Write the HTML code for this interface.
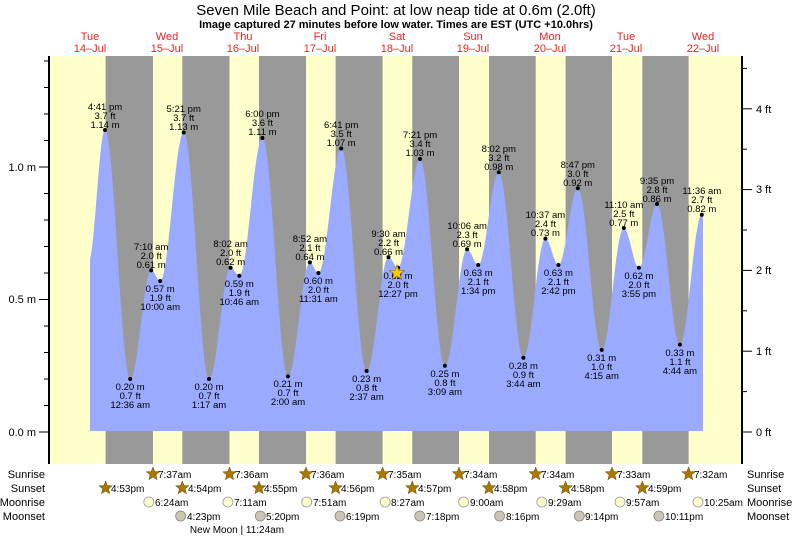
<!DOCTYPE html>
<html><head><meta charset="utf-8"><style>
html,body{margin:0;padding:0;background:#fff}
svg{display:block;font-family:"Liberation Sans",sans-serif}
</style></head><body>
<svg id="s" width="793" height="537" viewBox="0 0 793 537">
<rect x="49" y="56" width="693" height="408" fill="#ffffcc"/>
<g fill="#999999">
<rect x="105.6" y="56" width="47.4" height="408"/>
<rect x="182.3" y="56" width="47.2" height="408"/>
<rect x="259" y="56" width="47" height="408"/>
<rect x="335.6" y="56" width="47" height="408"/>
<rect x="412.3" y="56" width="46.7" height="408"/>
<rect x="489" y="56" width="46.7" height="408"/>
<rect x="565.6" y="56" width="46.4" height="408"/>
<rect x="642.3" y="56" width="46.3" height="408"/>
</g>
<path id="tide" fill="#99aaff" d=""/>
<g stroke="#000" stroke-width="2"><line x1="49" y1="56" x2="49" y2="464"/><line x1="742" y1="56" x2="742" y2="464"/></g>
<g id="ticks" stroke="#000" stroke-width="1"></g>
<g font-size="11" fill="#000">
<text x="36" y="436" text-anchor="end">0.0 m</text>
<text x="36" y="303" text-anchor="end">0.5 m</text>
<text x="36" y="171" text-anchor="end">1.0 m</text>
<text x="756" y="436">0 ft</text>
<text x="756" y="355">1 ft</text>
<text x="756" y="274">2 ft</text>
<text x="756" y="193">3 ft</text>
<text x="756" y="113">4 ft</text>
</g>
<text x="396" y="15" font-size="15" text-anchor="middle">Seven Mile Beach and Point: at low  neap tide at 0.6m (2.0ft)</text>
<text x="396" y="28" font-size="11" font-weight="bold" text-anchor="middle">Image captured 27 minutes before low water. Times are EST (UTC +10.0hrs)</text>
<g font-size="11" fill="#ee2222" text-anchor="middle">
<text x="90" y="40">Tue</text><text x="90" y="52">14–Jul</text>
<text x="167" y="40">Wed</text><text x="167" y="52">15–Jul</text>
<text x="243" y="40">Thu</text><text x="243" y="52">16–Jul</text>
<text x="320" y="40">Fri</text><text x="320" y="52">17–Jul</text>
<text x="397" y="40">Sat</text><text x="397" y="52">18–Jul</text>
<text x="473" y="40">Sun</text><text x="473" y="52">19–Jul</text>
<text x="550" y="40">Mon</text><text x="550" y="52">20–Jul</text>
<text x="626" y="40">Tue</text><text x="626" y="52">21–Jul</text>
<text x="703" y="40">Wed</text><text x="703" y="52">22–Jul</text>
</g>
<g font-size="9.5" text-anchor="middle" fill="#000">
<g><circle cx="105" cy="130" r="2"/><text x="105" y="110">4:41 pm</text><text x="105" y="119">3.7 ft</text><text x="105" y="128">1.14 m</text></g>
<g><circle cx="183.7" cy="132.5" r="2"/><text x="183.7" y="112">5:21 pm</text><text x="183.7" y="121">3.7 ft</text><text x="183.7" y="130">1.13 m</text></g>
<g><circle cx="262.4" cy="138" r="2"/><text x="262.4" y="117">6:00 pm</text><text x="262.4" y="126">3.6 ft</text><text x="262.4" y="135">1.11 m</text></g>
<g><circle cx="341.2" cy="148.5" r="2"/><text x="341.2" y="128">6:41 pm</text><text x="341.2" y="137">3.5 ft</text><text x="341.2" y="146">1.07 m</text></g>
<g><circle cx="420" cy="159" r="2"/><text x="420" y="138">7:21 pm</text><text x="420" y="147">3.4 ft</text><text x="420" y="156">1.03 m</text></g>
<g><circle cx="498.8" cy="172.3" r="2"/><text x="498.8" y="152">8:02 pm</text><text x="498.8" y="161">3.2 ft</text><text x="498.8" y="170">0.98 m</text></g>
<g><circle cx="577.8" cy="188.2" r="2"/><text x="577.8" y="168">8:47 pm</text><text x="577.8" y="177">3.0 ft</text><text x="577.8" y="186">0.92 m</text></g>
<g><circle cx="657" cy="204" r="2"/><text x="657" y="184">9:35 pm</text><text x="657" y="193">2.8 ft</text><text x="657" y="202">0.86 m</text></g>
<g><circle cx="701.8" cy="214.7" r="2"/><text x="701.8" y="194">11:36 am</text><text x="701.8" y="203">2.7 ft</text><text x="701.8" y="212">0.82 m</text></g>
<g><circle cx="151.2" cy="270.4" r="2"/><text x="151.2" y="250">7:10 am</text><text x="151.2" y="259">2.0 ft</text><text x="151.2" y="268">0.61 m</text></g>
<g><circle cx="230.6" cy="267.7" r="2"/><text x="230.6" y="247">8:02 am</text><text x="230.6" y="256">2.0 ft</text><text x="230.6" y="265">0.62 m</text></g>
<g><circle cx="309.9" cy="262.4" r="2"/><text x="309.9" y="242">8:52 am</text><text x="309.9" y="251">2.1 ft</text><text x="309.9" y="260">0.64 m</text></g>
<g><circle cx="388.5" cy="257.1" r="2"/><text x="388.5" y="237">9:30 am</text><text x="388.5" y="246">2.2 ft</text><text x="388.5" y="255">0.66 m</text></g>
<g><circle cx="467.1" cy="249.2" r="2"/><text x="467.1" y="229">10:06 am</text><text x="467.1" y="238">2.3 ft</text><text x="467.1" y="247">0.69 m</text></g>
<g><circle cx="545.4" cy="238.6" r="2"/><text x="545.4" y="218">10:37 am</text><text x="545.4" y="227">2.4 ft</text><text x="545.4" y="236">0.73 m</text></g>
<g><circle cx="623.8" cy="228" r="2"/><text x="623.8" y="208">11:10 am</text><text x="623.8" y="217">2.5 ft</text><text x="623.8" y="226">0.77 m</text></g>
<g><circle cx="130.2" cy="379" r="2"/><text x="130.2" y="390">0.20 m</text><text x="130.2" y="399">0.7 ft</text><text x="130.2" y="408">12:36 am</text></g>
<g><circle cx="209" cy="379" r="2"/><text x="209" y="390">0.20 m</text><text x="209" y="399">0.7 ft</text><text x="209" y="408">1:17 am</text></g>
<g><circle cx="288" cy="376.4" r="2"/><text x="288" y="387">0.21 m</text><text x="288" y="396">0.7 ft</text><text x="288" y="405">2:00 am</text></g>
<g><circle cx="366.6" cy="371" r="2"/><text x="366.6" y="382">0.23 m</text><text x="366.6" y="391">0.8 ft</text><text x="366.6" y="400">2:37 am</text></g>
<g><circle cx="444.9" cy="365.8" r="2"/><text x="444.9" y="377">0.25 m</text><text x="444.9" y="386">0.8 ft</text><text x="444.9" y="395">3:09 am</text></g>
<g><circle cx="523.4" cy="357.8" r="2"/><text x="523.4" y="369">0.28 m</text><text x="523.4" y="378">0.9 ft</text><text x="523.4" y="387">3:44 am</text></g>
<g><circle cx="601.7" cy="349.9" r="2"/><text x="601.7" y="361">0.31 m</text><text x="601.7" y="370">1.0 ft</text><text x="601.7" y="379">4:15 am</text></g>
<g><circle cx="679.9" cy="344.6" r="2"/><text x="679.9" y="356">0.33 m</text><text x="679.9" y="365">1.1 ft</text><text x="679.9" y="374">4:44 am</text></g>
<g><circle cx="160.2" cy="281" r="2"/><text x="160.2" y="292">0.57 m</text><text x="160.2" y="301">1.9 ft</text><text x="160.2" y="310">10:00 am</text></g>
<g><circle cx="239.3" cy="275.7" r="2"/><text x="239.3" y="287">0.59 m</text><text x="239.3" y="296">1.9 ft</text><text x="239.3" y="305">10:46 am</text></g>
<g><circle cx="318.4" cy="273" r="2"/><text x="318.4" y="284">0.60 m</text><text x="318.4" y="293">2.0 ft</text><text x="318.4" y="302">11:31 am</text></g>
<g><circle cx="398" cy="267.7" r="2"/><text x="398" y="279">0.62 m</text><text x="398" y="288">2.0 ft</text><text x="398" y="297">12:27 pm</text></g>
<g><circle cx="478.2" cy="265" r="2"/><text x="478.2" y="276">0.63 m</text><text x="478.2" y="285">2.1 ft</text><text x="478.2" y="294">1:34 pm</text></g>
<g><circle cx="558.4" cy="265" r="2"/><text x="558.4" y="276">0.63 m</text><text x="558.4" y="285">2.1 ft</text><text x="558.4" y="294">2:42 pm</text></g>
<g><circle cx="638.9" cy="267.7" r="2"/><text x="638.9" y="279">0.62 m</text><text x="638.9" y="288">2.0 ft</text><text x="638.9" y="297">3:55 pm</text></g>
</g>
<polygon points="397,265 399,270.5 404.5,270.5 400,274 401.7,279.5 397,276 392.3,279.5 394,274 389.5,270.5 395,270.5" fill="#ffcc00" stroke="#886600" stroke-width="0.6"/>
<g font-size="11" fill="#000">
<text x="45" y="478" text-anchor="end">Sunrise</text>
<text x="45" y="492" text-anchor="end">Sunset</text>
<text x="45" y="506" text-anchor="end">Moonrise</text>
<text x="45" y="520" text-anchor="end">Moonset</text>
<text x="747" y="478">Sunrise</text>
<text x="747" y="492">Sunset</text>
<text x="747" y="506">Moonrise</text>
<text x="747" y="520">Moonset</text>
</g>
<g id="events" font-size="10" fill="#000">
<text x="158" y="478">7:37am</text><text x="235" y="478">7:36am</text><text x="311" y="478">7:36am</text><text x="388" y="478">7:35am</text><text x="464" y="478">7:34am</text><text x="541" y="478">7:34am</text><text x="617" y="478">7:33am</text><text x="694" y="478">7:32am</text>
<text x="111" y="492">4:53pm</text><text x="188" y="492">4:54pm</text><text x="264" y="492">4:55pm</text><text x="341" y="492">4:56pm</text><text x="418" y="492">4:57pm</text><text x="494" y="492">4:58pm</text><text x="571" y="492">4:58pm</text><text x="648" y="492">4:59pm</text>
<text x="155" y="506">6:24am</text><text x="234" y="506">7:11am</text><text x="313" y="506">7:51am</text><text x="391" y="506">8:27am</text><text x="470" y="506">9:00am</text><text x="548" y="506">9:29am</text><text x="626" y="506">9:57am</text><text x="704" y="506">10:25am</text>
<text x="187" y="520">4:23pm</text><text x="266" y="520">5:20pm</text><text x="346" y="520">6:19pm</text><text x="426" y="520">7:18pm</text><text x="506" y="520">8:16pm</text><text x="585" y="520">9:14pm</text><text x="665" y="520">10:11pm</text>
<text x="237" y="533" text-anchor="middle">New Moon | 11:24am</text>
</g>
<g id="icons"></g>
</svg>
<script>
var ppd=76.63,x0=90;function X(h){return x0+h*ppd/24}function Y(m){return 432-265*m}
var E=[[-0.5,0.64],[4.683,1.14],[12.6,.20],[19.167,.61],[22,.57],[29.35,1.13],[37.283,.20],[44.033,.62],[46.767,.59],[54,1.11],[62,.21],[68.867,.64],[71.517,.60],[78.683,1.07],[86.617,.23],[93.5,.66],[96.45,.62],[103.35,1.03],[111.15,.25],[118.1,.69],[121.567,.63],[128.033,.98],[135.733,.28],[142.617,.73],[146.7,.63],[152.783,.92],[160.25,.31],[167.167,.77],[171.917,.62],[177.583,.86],[184.733,.33],[191.6,.82],[198,.4]];
function val(h){for(var i=0;i<E.length-1;i++){if(h>=E[i][0]&&h<=E[i+1][0]){var f=(h-E[i][0])/(E[i+1][0]-E[i][0]);return E[i][1]+(E[i+1][1]-E[i][1])*(1-Math.cos(Math.PI*f))/2}}return 0}
var d="M"+X(0)+",431";for(var h=0;h<=192;h+=0.25){d+=" L"+X(h).toFixed(1)+","+Y(val(h)).toFixed(1)}d+=" L"+X(192)+",431 Z";
document.getElementById('tide').setAttribute('d',d);
var t=document.getElementById('ticks'),s="";
for(var m=0;m<=1.41;m+=0.1){var y=Y(m),L=(Math.abs(m-0.5)<.01||m<.01||Math.abs(m-1)<.01)?10:5;s+='<line x1="'+(49-L)+'" y1="'+y+'" x2="49" y2="'+y+'"/>'}
for(var f=-0.5;f<=4.6;f+=0.5){var y=432-80.8*f;if(y<56||y>464)continue;var L=(f%1==0)?10:5;s+='<line x1="742" y1="'+y+'" x2="'+(742+L)+'" y2="'+y+'"/>'}
t.innerHTML=s;
function star(x,y){var p=[];for(var i=0;i<10;i++){var r=i%2?3:7,a=-Math.PI/2+i*Math.PI/5;p.push((x+r*Math.cos(a)).toFixed(1)+","+(y+r*Math.sin(a)).toFixed(1))}return '<polygon points="'+p.join(" ")+'" fill="#aa7700" stroke="#664400" stroke-width="0.5"/>'}
var ic="";[153,229.5,306,382.6,459,535.7,612,688.6].forEach(function(x){ic+=star(x,474)});
[105.6,182.3,259,335.6,412.3,489,565.6,642.3].forEach(function(x){ic+=star(x,488)});
[148.8,227.9,306.7,385.2,463.6,541.8,620,698].forEach(function(x){ic+='<circle cx="'+x+'" cy="502" r="5" fill="#ffffcc" stroke="#999" stroke-width="0.8"/>'});
[180.6,260.3,340,419.8,499.6,579.3,658.9].forEach(function(x){ic+='<circle cx="'+x+'" cy="516" r="5" fill="#ccc4b0" stroke="#888" stroke-width="0.8"/>'});
document.getElementById('icons').innerHTML=ic;
</script>
</body></html>
